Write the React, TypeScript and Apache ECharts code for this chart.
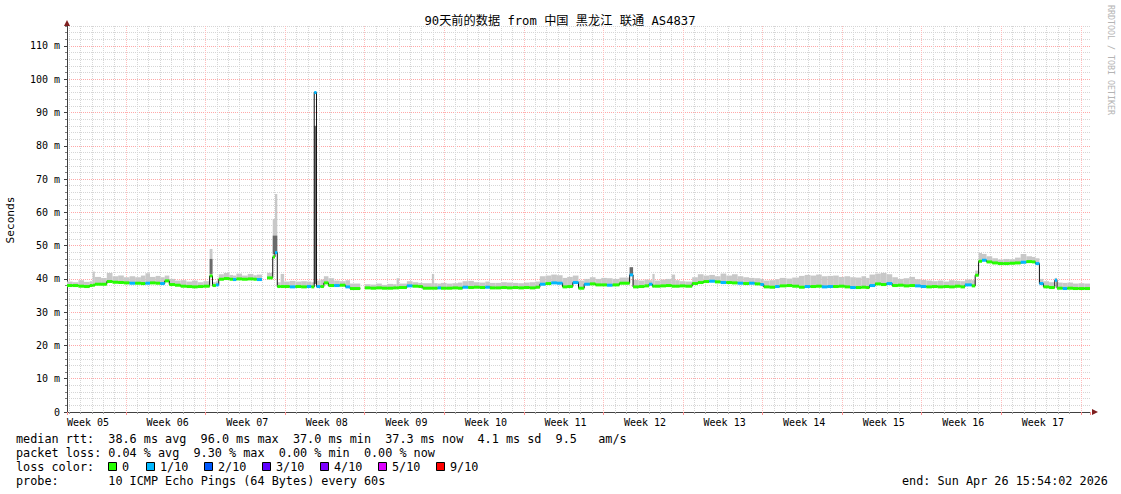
import React, { useEffect, useRef } from "react";
import * as echarts from "echarts";

// ---------- texts ----------
const titleText = "90天前的数据 from 中国 黑龙江 联通 AS4837";
const yAxisTitle = "Seconds";
const watermark = "RRDTOOL / TOBI OETIKER";
const weekLabels = [
  "Week 05", "Week 06", "Week 07", "Week 08", "Week 09", "Week 10", "Week 11",
  "Week 12", "Week 13", "Week 14", "Week 15", "Week 16", "Week 17",
];
const rttHeading = "median rtt:";
const rttSummary = ["38.6 ms avg", "96.0 ms max", "37.0 ms min", "37.3 ms now", "4.1 ms sd", "9.5", "am/s"];
const lossHeading = "packet loss:";
const lossSummary = ["0.04 % avg", "9.30 % max", "0.00 % min", "0.00 % now"];
const lossColorHeading = "loss color:";
const lossLevels = [0, 1, 2, 3, 4, 5, 9];
const lossLabels = ["0", "1/10", "2/10", "3/10", "4/10", "5/10", "9/10"];
const lossColors = ["#26ff00", "#00b8ff", "#0059ff", "#5e00ff", "#7e00ff", "#dd00ff", "#ff0000"];
const probeHeading = "probe:";
const probeText = "10 ICMP Echo Pings (64 Bytes) every 60s";
const endText = "end: Sun Apr 26 15:54:02 2026";

// ---------- data (days since graph start, milliseconds) ----------
const dayEnd = 90;
const segStart = [
  0.0, 0.5, 1.0, 1.5, 2.0, 2.25, 2.45, 3.0, 3.5, 4.0,
  4.5, 5.0, 5.5, 6.0, 6.5, 6.9, 7.3, 7.8, 8.2, 8.6,
  9.0, 9.5, 10.0, 10.5, 11.0, 11.5, 12.0, 12.55, 12.8, 13.1,
  13.35, 13.8, 14.3, 14.6, 14.9, 15.4, 15.9, 16.4, 16.7, 17.15,
  17.6, 18.1, 18.3, 18.5, 18.8, 19.1, 19.6, 20.1, 20.6, 21.1,
  21.5, 21.75, 21.95, 22.3, 22.6, 23.0, 23.5, 24.0, 24.5, 24.9,
  25.8, 26.2, 26.7, 27.2, 27.7, 28.2, 28.7, 29.0, 29.2, 29.9,
  30.4, 30.9, 31.3, 32.1, 32.3, 32.6, 32.9, 33.4, 33.9, 34.4,
  34.8, 35.3, 35.8, 36.3, 36.8, 37.2, 37.7, 38.2, 38.7, 39.2,
  39.7, 40.2, 40.7, 41.2, 41.6, 42.1, 42.6, 43.1, 43.6, 44.0,
  44.5, 45.0, 45.5, 46.0, 46.5, 47.0, 47.5, 48.0, 48.6, 49.5,
  49.8, 50.3, 50.8, 51.2, 51.5, 51.7, 52.2, 52.7, 53.2, 53.5,
  53.9, 54.4, 55.0, 55.5, 56.0, 56.5, 57.0, 57.5, 58.0, 58.5,
  59.0, 59.5, 60.0, 60.5, 61.0, 61.3, 61.8, 62.3, 62.7, 63.3,
  63.8, 64.4, 64.9, 65.4, 65.9, 66.4, 66.9, 67.4, 67.9, 68.4,
  68.9, 69.4, 69.9, 70.3, 70.6, 71.1, 71.6, 72.1, 72.6, 73.1,
  73.6, 74.1, 74.6, 75.1, 75.6, 76.1, 76.6, 77.1, 77.6, 78.1,
  78.6, 79.0, 79.6, 79.9, 80.2, 80.5, 80.9, 81.4, 81.9, 82.4,
  82.9, 83.4, 83.9, 84.4, 84.9, 85.2, 85.55, 85.9, 86.4, 86.9,
  87.1, 87.6, 88.0, 88.5, 89.0, 89.5,
];
const medianMs = [
  38.0, 38.0, 37.8, 37.7, 38.0, 38.1, 38.4, 38.4, 39.2, 39.0,
  38.9, 38.8, 38.7, 38.7, 38.6, 38.7, 38.8, 38.7, 38.6, 39.4,
  38.3, 38.1, 37.8, 37.7, 37.6, 37.7, 37.8, 40.9, 38.0, 38.2,
  39.9, 40.1, 39.9, 39.8, 40.0, 39.9, 40.0, 39.9, 39.8, null,
  40.3, 46.6, 47.9, 37.7, 37.7, 37.7, 37.6, 37.7, 37.6, 37.7,
  37.6, 96.0, 37.7, 37.7, 38.8, 38.0, 38.0, 38.1, 37.6, 37.1,
  null, 37.3, 37.2, 37.3, 37.2, 37.2, 37.3, 37.3, 37.4, 37.9,
  37.8, 37.7, 37.2, 37.2, 37.2, 37.3, 37.2, 37.2, 37.3, 37.2,
  37.5, 37.4, 37.5, 37.4, 37.5, 37.3, 37.3, 37.4, 37.3, 37.4,
  37.3, 37.4, 37.3, 37.5, 38.4, 38.6, 38.8, 38.7, 37.6, 37.7,
  38.9, 37.2, 38.4, 38.5, 38.2, 38.2, 38.1, 38.2, 38.7, 41.2,
  37.6, 37.7, 37.9, 38.4, 37.8, 37.8, 37.9, 38.0, 37.8, 37.8,
  37.9, 37.8, 38.6, 38.9, 39.2, 39.3, 39.1, 38.9, 38.9, 38.8,
  38.7, 38.6, 38.7, 38.5, 38.3, 37.6, 37.5, 37.7, 37.9, 38.0,
  37.8, 37.5, 37.7, 37.7, 37.8, 37.6, 37.7, 37.7, 37.8, 37.6,
  37.4, 37.4, 37.5, 37.4, 38.0, 38.5, 38.3, 38.6, 38.0, 38.1,
  37.9, 38.0, 37.9, 37.7, 37.6, 37.7, 37.6, 37.7, 37.6, 37.8,
  37.6, 38.2, 37.9, 41.1, 45.3, 45.6, 45.1, 44.8, 44.6, 44.6,
  44.7, 44.8, 45.0, 45.2, 45.1, 44.6, 38.6, 37.6, 37.4, 39.6,
  37.2, 37.1, 37.2, 37.1, 37.1, 37.1,
];
const smokeMaxMs = [
  39.2, 39.0, 39.6, 39.1, 39.3, 42.2, 40.6, 40.3, 41.8, 40.8,
  41.0, 40.5, 40.8, 40.5, 41.0, 41.7, 40.6, 40.9, 40.5, 41.0,
  40.0, 39.5, 39.6, 39.2, 39.5, 39.0, 39.3, 49.0, 39.0, 39.3,
  41.4, 41.8, 41.2, 41.0, 41.6, 41.0, 41.5, 41.1, 41.3, null,
  41.8, 58.0, 65.5, 39.0, 41.5, 39.2, 39.4, 39.2, 39.3, 39.2,
  39.0, 96.0, 39.5, 39.8, 40.8, 40.2, 39.5, 39.3, 39.6, 38.6,
  null, 38.4, 38.3, 38.6, 38.2, 38.5, 38.4, 40.2, 38.6, 39.3,
  39.0, 38.8, 38.7, 41.5, 38.7, 38.6, 38.8, 38.6, 38.7, 38.9,
  39.3, 39.4, 39.0, 38.9, 39.2, 38.8, 38.8, 39.0, 38.9, 38.8,
  38.7, 38.9, 39.0, 39.2, 40.8, 41.0, 41.3, 41.1, 40.3, 40.6,
  41.0, 39.5, 40.0, 40.5, 40.0, 40.3, 40.2, 40.0, 40.4, 43.5,
  39.7, 39.5, 39.8, 39.6, 41.5, 39.5, 39.8, 40.0, 41.3, 39.6,
  39.3, 39.2, 40.5, 41.4, 41.0, 41.2, 40.8, 41.6, 41.0, 41.4,
  40.8, 40.5, 40.3, 40.2, 40.0, 39.5, 39.6, 39.9, 40.3, 40.1,
  40.4, 40.9, 41.2, 41.0, 41.3, 40.8, 40.9, 41.0, 40.6, 40.8,
  40.5, 40.4, 40.8, 40.3, 41.3, 41.6, 41.8, 41.4, 40.5, 40.0,
  40.2, 40.6, 39.9, 39.7, 39.5, 39.3, 39.5, 39.2, 39.6, 39.4,
  39.3, 39.8, 39.6, 42.5, 47.8, 47.5, 46.8, 46.2, 45.8, 46.0,
  45.9, 46.4, 47.5, 46.8, 46.6, 46.2, 40.0, 39.3, 39.0, 40.3,
  38.9, 38.8, 38.9, 38.6, 38.7, 38.6,
];
const lossTenths = [
  0, 0, 0, 0, 0, 0, 0, 0, 0, 0,
  0, 0, 1, 0, 0, 1, 0, 0, 1, 0,
  0, 0, 0, 0, 0, 0, 0, 0, 0, 1,
  0, 0, 0, 1, 0, 0, 0, 0, 1, 0,
  0, 0, 1, 0, 0, 0, 1, 0, 0, 1,
  0, 1, 1, 0, 0, 0, 1, 0, 1, 0,
  0, 0, 0, 0, 0, 0, 0, 0, 0, 1,
  0, 0, 0, 0, 0, 1, 0, 0, 0, 0,
  1, 0, 0, 0, 1, 0, 0, 0, 0, 0,
  0, 0, 0, 0, 1, 0, 1, 1, 0, 0,
  1, 0, 1, 0, 0, 0, 1, 0, 0, 1,
  0, 0, 0, 1, 0, 0, 0, 0, 0, 0,
  0, 0, 0, 0, 0, 1, 0, 1, 0, 0,
  1, 0, 1, 0, 1, 0, 0, 1, 0, 0,
  0, 0, 1, 0, 0, 1, 1, 0, 0, 0,
  1, 0, 0, 0, 1, 0, 0, 1, 0, 0,
  0, 0, 1, 1, 0, 0, 0, 0, 0, 0,
  0, 1, 0, 0, 0, 1, 0, 0, 0, 0,
  0, 0, 1, 0, 0, 1, 1, 0, 0, 1,
  0, 1, 0, 0, 0, 0,
];
// dense (dark) smoke inside the spikes
const denseStart = [12.55, 18.1, 21.75, 49.5];
const denseEnd = [12.8, 18.5, 21.95, 49.8];
const denseLowMs = [41.5, 47.5, 38.5, 41.0];
const denseHighMs = [46.0, 53.0, 86.0, 43.5];

// ---------- layout / style ----------
const MONO = "'DejaVu Sans Mono', 'Noto Sans CJK SC', monospace";
const GRID = { left: 67, right: 31, top: 26, bottom: 82 };
const LEG_X = 16;
const CHAR_W = 7.1;
const LEG_FONT = 11.8;
const LEG_Y = [438.5, 452.5, 466.5, 480.5];
const rttCols = [13, 26, 39, 52, 65, 76, 82];
const lossCols = [13, 25, 37, 49];
const lossBoxX = [108, 146, 204, 262, 320, 378, 436];
const MINOR_GRID = "#d6d6d6";
const MAJOR_GRID_H = "#ffa8a8";
const MAJOR_GRID_V = "#ffbcbc";
const AXIS = "#404040";
const ARROW = "#7f1f1f";

function buildOption() {
  const segEnd = segStart.map((s, i) => (i + 1 < segStart.length ? segStart[i + 1] : dayEnd));
  const segRows = segStart
    .map((s, i) => [s, segEnd[i], medianMs[i], smokeMaxMs[i], lossTenths[i]])
    .filter((r) => r[2] != null);
  const denseRows = denseStart.map((s, i) => [s, denseEnd[i], denseLowMs[i], denseHighMs[i]]);
  const medianPath: any[] = [];
  segStart.forEach((s, i) => {
    const m = medianMs[i];
    if (m == null) {
      medianPath.push([s, null]);
      return;
    }
    medianPath.push([s, m], [segEnd[i], m]);
  });

  const text = (t: string, x: number, y: number, extra: any = {}) => ({
    type: "text",
    x,
    y,
    silent: true,
    z: 10,
    style: {
      text: t,
      fill: "#000",
      fontSize: LEG_FONT,
      fontFamily: MONO,
      align: "left",
      verticalAlign: "middle",
      ...extra,
    },
  });

  const graphic: any[] = [];
  graphic.push(text(titleText, 560, 21, { align: "center", fontSize: 12.2 }));
  graphic.push({ ...text(yAxisTitle, 10, 220, { align: "center", fontSize: 11.2 }), rotation: Math.PI / 2 });
  graphic.push({ ...text(watermark, 1111, 60, { align: "center", fontSize: 8.3, fill: "#b4b4b4" }), rotation: -Math.PI / 2 });
  graphic.push(text(rttHeading, LEG_X, LEG_Y[0]));
  rttSummary.forEach((s, i) => graphic.push(text(s, LEG_X + rttCols[i] * CHAR_W, LEG_Y[0])));
  graphic.push(text(lossHeading, LEG_X, LEG_Y[1]));
  lossSummary.forEach((s, i) => graphic.push(text(s, LEG_X + lossCols[i] * CHAR_W, LEG_Y[1])));
  graphic.push(text(lossColorHeading, LEG_X, LEG_Y[2]));
  lossLabels.forEach((s, i) => {
    graphic.push({
      type: "rect",
      silent: true,
      z: 10,
      shape: { x: lossBoxX[i] + 0.5, y: Math.round(LEG_Y[2]) - 4.5, width: 8, height: 8 },
      style: { fill: lossColors[i], stroke: "#000", lineWidth: 1 },
    });
    graphic.push(text(s, lossBoxX[i] + 14, LEG_Y[2]));
  });
  graphic.push(text(probeHeading, LEG_X, LEG_Y[3]));
  graphic.push(text(probeText, LEG_X + 13 * CHAR_W, LEG_Y[3]));
  graphic.push(text(endText, 902, LEG_Y[3]));

  const hiddenLabel = { show: false };

  return {
    animation: false,
    backgroundColor: "#ffffff",
    grid: { ...GRID, containLabel: false },
    xAxis: [
      {
        // daily minor grid
        type: "value",
        min: -0.19,
        max: 89.81,
        minInterval: 1,
        maxInterval: 1,
        position: "bottom",
        axisLine: { show: false, onZero: false },
        axisTick: { show: true, length: 2, lineStyle: { color: "#a0a0a0" } },
        axisLabel: hiddenLabel,
        splitLine: {
          show: true,
          showMinLine: false,
          showMaxLine: false,
          lineStyle: { color: MINOR_GRID, type: [1, 1], width: 1 },
        },
      },
      {
        // weekly major grid
        type: "value",
        min: 1.81,
        max: 91.81,
        minInterval: 7,
        maxInterval: 7,
        position: "bottom",
        axisLine: {
          show: true,
          onZero: false,
          symbol: ["none", "triangle"],
          symbolSize: [6, 6],
          symbolOffset: [0, 5],
          lineStyle: { color: ARROW, width: 0 },
        },
        axisTick: { show: true, length: 3, lineStyle: { color: "#ff9090" } },
        axisLabel: hiddenLabel,
        splitLine: {
          show: true,
          showMinLine: false,
          showMaxLine: false,
          lineStyle: { color: MAJOR_GRID_V, type: [1, 1], width: 1 },
        },
      },
      {
        // labelled time axis (days)
        type: "value",
        min: 0,
        max: dayEnd,
        interval: 7,
        position: "bottom",
        axisLine: { show: true, onZero: false, lineStyle: { color: AXIS, width: 1 } },
        axisTick: { show: false },
        axisLabel: {
          show: true,
          align: "left",
          margin: 5,
          fontFamily: MONO,
          fontSize: 10,
          color: "#000",
          showMaxLabel: false,
          formatter: (v: number) => {
            const k = Math.round(v / 7);
            return Math.abs(v - k * 7) < 1e-6 && k < weekLabels.length ? weekLabels[k] : "";
          },
        },
        splitLine: { show: false },
      },
    ],
    yAxis: [
      {
        // minor grid every 2 ms
        type: "value",
        min: 0,
        max: 116,
        minInterval: 2,
        maxInterval: 2,
        position: "left",
        axisLine: {
          show: true,
          onZero: false,
          symbol: ["none", "triangle"],
          symbolSize: [6, 6],
          symbolOffset: [0, 3],
          lineStyle: { color: ARROW, width: 0 },
        },
        axisTick: { show: true, length: 2, lineStyle: { color: "#808080" } },
        axisLabel: hiddenLabel,
        splitLine: {
          show: true,
          showMinLine: false,
          lineStyle: { color: MINOR_GRID, type: [1, 1], width: 1 },
        },
      },
      {
        type: "value",
        min: 0,
        max: 116,
        interval: 10,
        position: "left",
        axisLine: { show: true, onZero: false, lineStyle: { color: AXIS, width: 1 } },
        axisTick: { show: true, length: 3, lineStyle: { color: AXIS } },
        axisLabel: {
          show: true,
          margin: 7,
          fontFamily: MONO,
          fontSize: 10,
          color: "#000",
          showMaxLabel: false,
          formatter: (v: number) => (v === 0 ? "0" : v % 10 === 0 ? `${v} m` : ""),
        },
        splitLine: {
          show: true,
          showMinLine: false,
          showMaxLine: false,
          lineStyle: { color: MAJOR_GRID_H, type: [1, 1], width: 1 },
        },
      },
    ],
    series: [
      {
        type: "custom",
        name: "smoke",
        coordinateSystem: "cartesian2d",
        xAxisIndex: 2,
        yAxisIndex: 1,
        silent: true,
        z: 2,
        clip: true,
        data: segRows,
        encode: { x: [0, 1], y: [2, 3] },
        renderItem: (_p: any, api: any) => {
          const a = api.coord([api.value(0), api.value(3)]);
          const b = api.coord([api.value(1), api.value(2)]);
          return {
            type: "rect",
            shape: { x: a[0], y: Math.min(a[1], b[1]), width: b[0] - a[0], height: Math.abs(b[1] - a[1]) },
            style: { fill: "#c8c8c8" },
          };
        },
      },
      {
        type: "custom",
        name: "dense",
        coordinateSystem: "cartesian2d",
        xAxisIndex: 2,
        yAxisIndex: 1,
        silent: true,
        z: 3,
        clip: true,
        data: denseRows,
        encode: { x: [0, 1], y: [2, 3] },
        renderItem: (_p: any, api: any) => {
          const a = api.coord([api.value(0), api.value(3)]);
          const b = api.coord([api.value(1), api.value(2)]);
          return {
            type: "rect",
            shape: { x: a[0], y: a[1], width: b[0] - a[0], height: b[1] - a[1] },
            style: { fill: "#6a6a6a" },
          };
        },
      },
      {
        type: "line",
        name: "median",
        xAxisIndex: 2,
        yAxisIndex: 1,
        silent: true,
        z: 4,
        symbol: "none",
        showSymbol: false,
        connectNulls: false,
        data: medianPath,
        lineStyle: { color: "#111111", width: 1 },
      },
      {
        type: "custom",
        name: "loss",
        coordinateSystem: "cartesian2d",
        xAxisIndex: 2,
        yAxisIndex: 1,
        silent: true,
        z: 5,
        clip: true,
        data: segRows,
        encode: { x: [0, 1], y: 2 },
        renderItem: (_p: any, api: any) => {
          const a = api.coord([api.value(0), api.value(2)]);
          const b = api.coord([api.value(1), api.value(2)]);
          const idx = Math.max(0, lossLevels.indexOf(api.value(4)));
          return {
            type: "rect",
            shape: { x: a[0], y: a[1] - 1.5, width: b[0] - a[0], height: 3 },
            style: { fill: lossColors[idx] },
          };
        },
      },
    ],
    graphic,
  };
}

export default function App() {
  const ref = useRef<HTMLDivElement>(null);
  useEffect(() => {
    if (!ref.current) return;
    const chart = echarts.init(ref.current, null, { renderer: "svg" });
    chart.setOption(buildOption() as any);
    return () => chart.dispose();
  }, []);
  return (
    <div
      ref={ref}
      style={{ position: "absolute", left: 0, top: 0, width: 1121, height: 494, background: "#ffffff" }}
    />
  );
}
